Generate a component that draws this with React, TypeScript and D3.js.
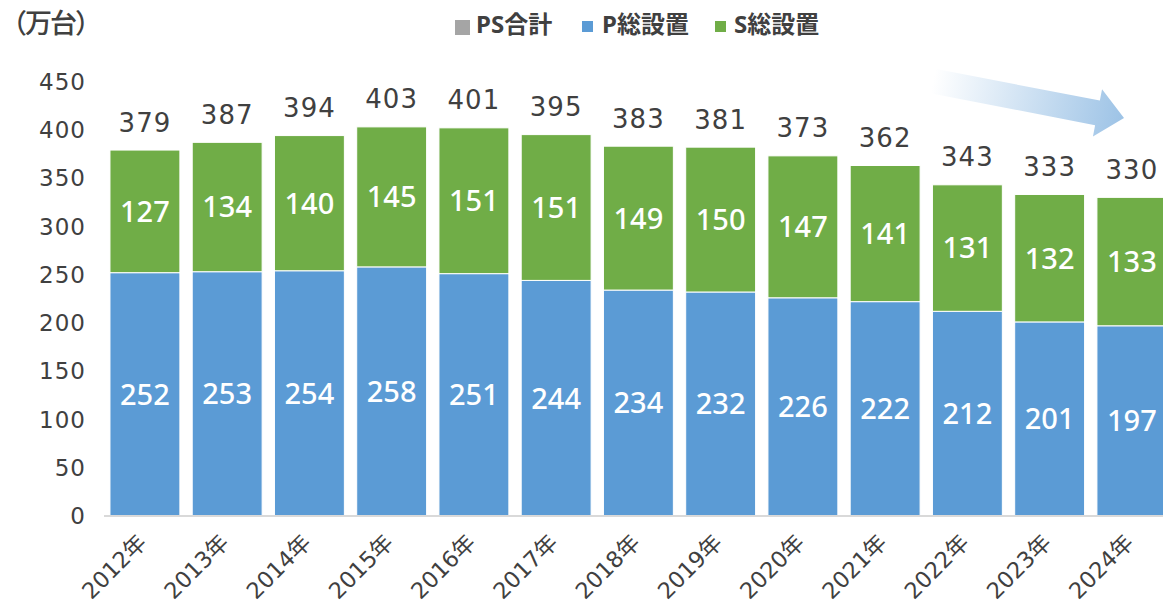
import React from "react";
import * as d3 from "d3";

const years = ["2012年","2013年","2014年","2015年","2016年","2017年","2018年","2019年","2020年","2021年","2022年","2023年","2024年"];
const pValues = [252,253,254,258,251,244,234,232,226,222,212,201,197];
const sValues = [127,134,140,145,151,151,149,150,147,141,131,132,133];
const psTotals = [379,387,394,403,401,395,383,381,373,362,343,333,330];
const yTicks = [0,50,100,150,200,250,300,350,400,450];
const legendItems = [
  { label: "PS合計", color: "#A5A5A5" },
  { label: "P総設置", color: "#5B9BD5" },
  { label: "S総設置", color: "#70AD47" },
];

const W = 1163, H = 605;
const TEXT = "#404040";
const NUM_FONT = "'DejaVu Sans', 'Noto Sans CJK JP', sans-serif";
const JP_FONT = "'Noto Sans CJK JP', 'Noto Sans', sans-serif";

export default function App() {
  const x = d3.scaleBand<string>().domain(years).range([103.8, 1173]).paddingInner(0.15).paddingOuter(0.075);
  const y = d3.scaleLinear().domain([0, 450]).range([516, 81.5]);
  const bw = x.bandwidth();

  // arrow geometry
  const ax0 = 912, ay0 = 77, ax1 = 1124, ay1 = 118;
  const ang = Math.atan2(ay1 - ay0, ax1 - ax0) * 180 / Math.PI;
  const L = Math.hypot(ax1 - ax0, ay1 - ay0);
  const headL = 27, shaftHW = 12.5, headHW = 24;

  const legendPos = [
    { sq: [455, 20, 15], tx: 476 },
    { sq: [582, 21, 11], tx: 602 },
    { sq: [715, 21, 11], tx: 734 },
  ];

  return (
    <svg width={W} height={H} style={{ position: "absolute", left: 0, top: 0, background: "#fff" }}>
      <defs>
        <linearGradient id="arrowGrad" x1="0" y1="0" x2="1" y2="0">
          <stop offset="0" stopColor="#ffffff" />
          <stop offset="0.1" stopColor="#ffffff" />
          <stop offset="1" stopColor="#9DC3E6" />
        </linearGradient>
      </defs>

      {/* unit label */}
      <text x={0} y={33} fontFamily={JP_FONT} fontWeight={500} fontSize={27} letterSpacing={-2} fill={TEXT}>（万台）</text>

      {/* legend */}
      {legendItems.map((d, i) => (
        <g key={d.label}>
          <rect x={legendPos[i].sq[0]} y={legendPos[i].sq[1]} width={legendPos[i].sq[2]} height={legendPos[i].sq[2]} fill={d.color} />
          <text x={legendPos[i].tx} y={33} fontFamily={"'Noto Sans', 'Noto Sans CJK JP', sans-serif"} fontWeight={700} fontSize={24} fill={TEXT}>{d.label}</text>
        </g>
      ))}

      {/* y tick labels */}
      {yTicks.map(t => (
        <text key={t} x={86} y={y(t)} dy="0.36em" textAnchor="end" fontFamily={NUM_FONT} fontSize={23} letterSpacing={1} fill={TEXT}>{t}</text>
      ))}

      {/* bars */}
      {years.map((yr, i) => {
        const x0 = x(yr)!;
        const p = pValues[i], s = sValues[i];
        return (
          <g key={yr}>
            <rect x={x0} y={y(p)} width={bw} height={y(0) - y(p)} fill="#5B9BD5" stroke="#fff" strokeWidth={1} />
            <rect x={x0} y={y(p + s)} width={bw} height={y(p) - y(p + s)} fill="#70AD47" stroke="#fff" strokeWidth={1} />
            <text x={x0 + bw / 2} y={y(p / 2)} dy="0.36em" textAnchor="middle" fontFamily="'Noto Sans', sans-serif" fontWeight={500} fontSize={29} fill="#fff">{p}</text>
            <text x={x0 + bw / 2} y={y(p + s / 2)} dy="0.36em" textAnchor="middle" fontFamily="'Noto Sans', sans-serif" fontWeight={500} fontSize={29} fill="#fff">{s}</text>
            <text x={x0 + bw / 2} y={y(p + s) - 18.5} textAnchor="middle" fontFamily={NUM_FONT} fontSize={26} letterSpacing={1} fill={TEXT}>{psTotals[i]}</text>
          </g>
        );
      })}

      {/* x axis line */}
      <line x1={104} x2={W} y1={516} y2={516} stroke="#D9D9D9" strokeWidth={2} />

      {/* x labels */}
      {years.map(yr => (
        <text key={yr} transform={`translate(${x(yr)! + bw / 2 + 3},${544}) rotate(-45)`} textAnchor="end" fontFamily={NUM_FONT} fontSize={22.5} fill={TEXT}>{yr}</text>
      ))}

      {/* trend arrow */}
      <g transform={`translate(${ax0},${ay0}) rotate(${ang})`}>
        <path
          d={`M0,${-shaftHW} L${L - headL},${-shaftHW} L${L - headL},${-headHW} L${L},0 L${L - headL},${headHW} L${L - headL},${shaftHW} L0,${shaftHW} Z`}
          fill="url(#arrowGrad)"
        />
      </g>
    </svg>
  );
}
